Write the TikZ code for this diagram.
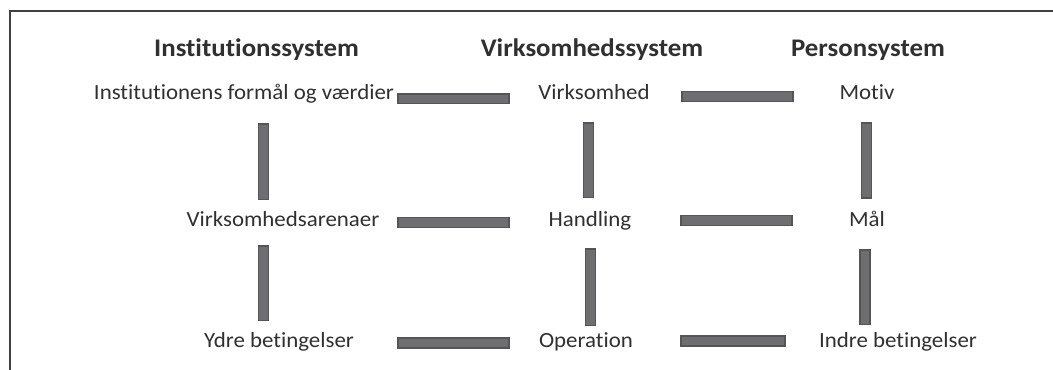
\documentclass[tikz,border=0pt]{standalone}
\usepackage{fontspec}
\setmainfont{Carlito}[Ligatures={NoCommon}, FakeStretch=1.06]
\definecolor{barfill}{HTML}{6E6E70}
\definecolor{baredge}{HTML}{555557}
\definecolor{txt}{HTML}{303030}
\begin{document}
\begin{tikzpicture}[x=0.75pt,y=-0.75pt,
  head/.style={font=\fontsize{19}{22}\selectfont\bfseries, text=txt, inner sep=0pt, anchor=base},
  item/.style={font=\fontsize{16.2}{19}\selectfont, text=txt, inner sep=0pt, anchor=base},
  bar/.style={fill=barfill, draw=baredge, line width=0.9pt}]
\useasboundingbox (0,0) rectangle (1053,370);
\fill[white] (0,0) rectangle (1053,370);
% frame
\draw[line width=1.5pt, color=black!75] (9.5,370) -- (9.5,11) -- (1053,11);

% column headings
\node[head] (h1) at (256.5,57) {Institutionssystem};
\node[head] (h2) at (592,57) {Virksomhedssystem};
\node[head] (h3) at (868,57) {Personsystem};

% row 1
\node[item] (a1) at (244,100) {Institutionens formål og værdier};
\node[item] (b1) at (594,100) {Virksomhed};
\node[item] (c1) at (867,100) {Motiv};
% row 2
\node[item] (a2) at (283,227) {Virksomhedsarenaer};
\node[item] (b2) at (590,227) {Handling};
\node[item] (c2) at (867,227) {Mål};
% row 3
\node[item] (a3) at (279,348) {Ydre betingelser};
\node[item] (b3) at (586,348) {Operation};
\node[item] (c3) at (898,347) {Indre betingelser};

% horizontal links
\draw[bar] (398,94) rectangle (509,103.5);
\draw[bar] (682,91.5) rectangle (793,101.5);
\draw[bar] (398,217.5) rectangle (509,227.5);
\draw[bar] (681,215.5) rectangle (792,225.5);
\draw[bar] (398,338) rectangle (509,348);
\draw[bar] (681,336) rectangle (785,346);

% vertical links
\draw[bar] (258.5,124) rectangle (268.5,199.5);
\draw[bar] (258.5,246) rectangle (268.5,320.5);
\draw[bar] (583.5,123) rectangle (593.5,197.5);
\draw[bar] (585.5,249) rectangle (595.5,325.5);
\draw[bar] (861.5,123) rectangle (871.5,198);
\draw[bar] (860,250) rectangle (870,324.5);
\end{tikzpicture}
\end{document}
